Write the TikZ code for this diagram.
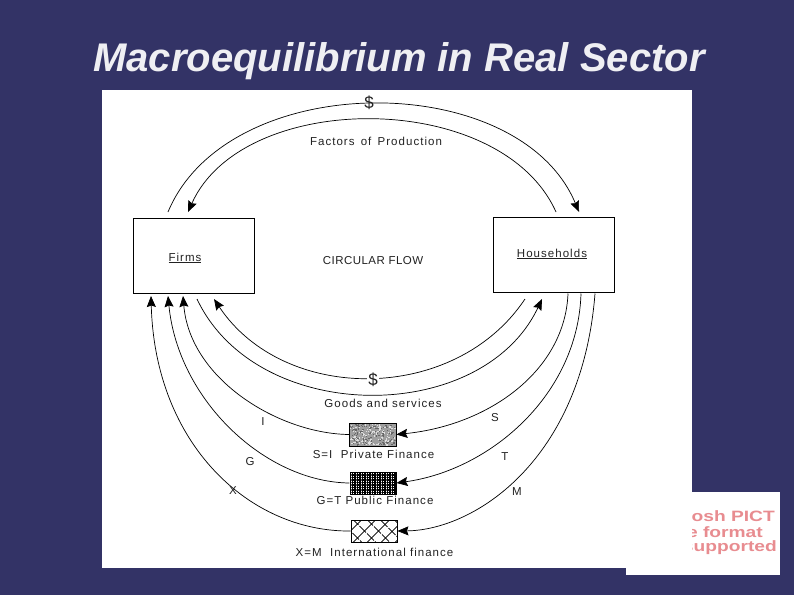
\documentclass[tikz,border=0pt]{standalone}
\usepackage{fontspec}
\setmainfont{Liberation Sans}
\newfontfamily\panelfont[LetterSpace=9]{Liberation Sans}
\newfontfamily\capsfont[LetterSpace=4]{Liberation Sans}
\newfontfamily\pictfont[FakeStretch=1.28]{Liberation Sans}
\usetikzlibrary{arrows.meta,patterns.meta}
\definecolor{slidebg}{HTML}{333366}
\definecolor{pictred}{HTML}{E88C90}
\definecolor{inkgray}{HTML}{222222}
\tikzset{
  flowline/.style={draw=black, line width=0.7pt},
  flowarrow/.style={flowline, -{Stealth[length=11pt,width=9pt,inset=1.5pt]}},
  panellabel/.style={text=inkgray, font=\panelfont\fontsize{11.5}{13}\selectfont, inner sep=0pt},
  pictlabel/.style={text=pictred, font=\pictfont\bfseries\fontsize{15}{18}\selectfont, inner sep=0pt, anchor=east},
  sectorbox/.style={draw=black, line width=0.8pt, fill=white, minimum width=121pt, minimum height=75pt},
  financebox/.style={draw=black, line width=0.7pt, minimum width=46pt, minimum height=22pt}
}

\begin{document}
\begin{tikzpicture}[x=1pt,y=-1pt]
    \useasboundingbox (0,0) rectangle (794,595);
    \fill [slidebg] (0,0) rectangle (794,595);
    \fill [white] (626,492) rectangle (780,575);
    \node (pict1) [pictlabel] at (775,516) {osh PICT};
    \node (pict2) [pictlabel] at (763,532) {e format};
    \node (pict3) [pictlabel] at (777,548) {supported};
    \fill [white] (102,90) rectangle (692,568);
    \node (title) [text=white!92!slidebg, font=\bfseries\itshape\fontsize{40}{44}\selectfont, inner sep=0pt] at (399,61) {Macroequilibrium in Real Sector};

    \node (firms) [sectorbox] at (193.5,255.5) {};
    \node (households) [sectorbox] at (554,255) {};
    \node (privatebox) [financebox, draw=none, fill=gray!75] at (373,434.5) {};
    \pgfmathsetseed{7}
    \foreach \i in {1,...,130} {
      \pgfmathsetmacro{\sx}{350+45*rnd}
      \pgfmathsetmacro{\sy}{423.5+21*rnd}
      \fill [gray!25] (\sx,\sy) rectangle ++(1.2,1.2);
      \pgfmathsetmacro{\sx}{350+45*rnd}
      \pgfmathsetmacro{\sy}{423.5+21*rnd}
      \fill [black!60] (\sx,\sy) rectangle ++(1.2,1.2);
    }
    \node (publicbox) [financebox, preaction={pattern={Lines[angle=0,distance=2.5pt,line width=1.1pt]}}, pattern={Lines[angle=90,distance=2.5pt,line width=1.1pt]}] at (373,483) {};
    \node (worldbox) [financebox, preaction={pattern={Lines[angle=45,distance=10.5pt,line width=0.9pt]}}, pattern={Lines[angle=-45,distance=10.5pt,line width=0.9pt]}] at (374,531) {};
    \draw [financebox] (privatebox.south west) rectangle (privatebox.north east);

    \coordinate (factorsA) at (168,212);
    \coordinate (factorsB) at (579,212);
    \coordinate (factorsC) at (556,212);
    \coordinate (factorsD) at (188,212);
    \coordinate (goodsA) at (525,299);
    \coordinate (goodsB) at (214,299);
    \coordinate (goodsC) at (197,299);
    \coordinate (goodsD) at (542,299);
    \coordinate (firmsI) at (183,296);
    \coordinate (firmsG) at (168,296);
    \coordinate (firmsX) at (151,296);
    \coordinate (homeS) at (568,293.5);
    \coordinate (homeT) at (581,293.5);
    \coordinate (homeM) at (595,293.5);

    \draw [flowarrow] (factorsA) .. controls (228,68) and (519,68) .. (factorsB);
    \draw [flowarrow] (factorsC) .. controls (501,89) and (243,89) .. (factorsD);
    \draw [flowarrow] (goodsA) .. controls (455,404) and (284,404) .. (goodsB);
    \draw [flowarrow] (goodsC) .. controls (257,426) and (482,426) .. (goodsD);
    \draw [flowarrow] (privatebox.west) .. controls (280,434) and (190,380) .. (firmsI);
    \draw [flowarrow] (publicbox.west) .. controls (265,482) and (178,400) .. (firmsG);
    \draw [flowarrow] (worldbox.west) .. controls (250,532) and (155,445) .. (firmsX);
    \draw [flowarrow] (homeS) .. controls (565,370) and (490,425) .. (privatebox.east);
    \draw [flowarrow] (homeT) .. controls (578,395) and (490,470) .. (publicbox.east);
    \draw [flowarrow] (homeM) .. controls (582,460) and (475,530) .. (worldbox.east);

    \node (dollarTop) [panellabel, font=\fontsize{17}{19}\selectfont] at (369,103) {\$};
    \node (factors) [panellabel] at (376,141) {Factors\hspace{2pt} of\hspace{2pt} Production};
    \node (firmsText) [panellabel] at (185,258) {\underline{Firms}};
    \node (flowText) [panellabel, font=\capsfont\fontsize{11.5}{13}\selectfont] at (373,261) {CIRCULAR FLOW};
    \node (homeText) [panellabel] at (552,254) {\underline{Households}};
    \node (dollarLow) [panellabel, fill=white, inner sep=1pt, font=\fontsize{17}{19}\selectfont] at (373,380) {\$};
    \node (goods) [panellabel] at (383,403.5) {Goods and services};
    \node (labelI) [panellabel] at (263,422) {I};
    \node (labelS) [panellabel] at (495,418) {S};
    \node (privateText) [panellabel] at (373.5,454) {S=I\ \ Private Finance};
    \node (labelG) [panellabel] at (250,462) {G};
    \node (labelT) [panellabel] at (505,456.5) {T};
    \node (publicText) [panellabel] at (375,500.5) {G=T Public Finance};
    \node (labelX) [panellabel] at (233,491) {X};
    \node (labelM) [panellabel] at (517,491.5) {M};
    \node (worldText) [panellabel] at (374.5,552) {X=M\ \ International finance};
  \end{tikzpicture}
\end{document}
